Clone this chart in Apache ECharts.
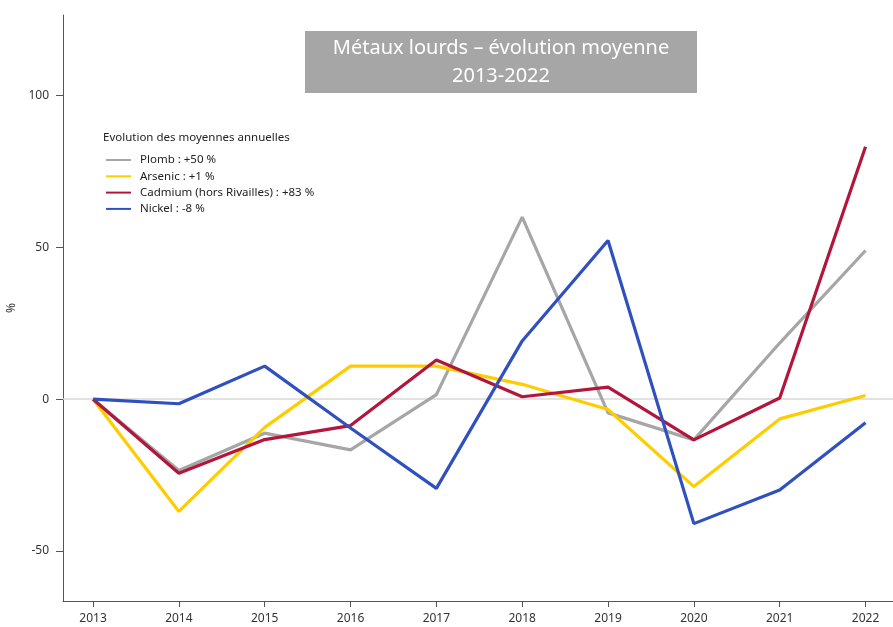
<!DOCTYPE html>
<html>
<head>
<meta charset="utf-8">
<script src="https://cdn.jsdelivr.net/npm/echarts@6/dist/echarts.min.js"></script>
<style>html,body{margin:0;padding:0;background:#fff}#c{width:893px;height:627px}</style>
</head>
<body>
<div id="c"></div>
<script>
var years = [2013, 2014, 2015, 2016, 2017, 2018, 2019, 2020, 2021, 2022];
var seriesNames = ['Plomb : +50 %', 'Arsenic : +1 %', 'Cadmium (hors Rivailles) : +83 %', 'Nickel : -8 %'];
var plomb   = [0, -23.5, -11.2, -16.7, 1.5, 60, -4.5, -13.4, 18.5, 49];
var arsenic = [0, -37, -9.3, 10.9, 10.9, 4.9, -3.4, -28.8, -6.5, 1.2];
var cadmium = [0, -24.4, -13.3, -8.7, 12.9, 0.8, 4, -13.4, 0.4, 83.2];
var nickel  = [0, -1.5, 10.9, -9.5, -29.4, 19.2, 52.3, -41, -29.9, -7.8];
var yTicks = [-50, 0, 50, 100];
var colors = ['#a6a6a6', '#ffcc00', '#b3163b', '#3050bf'];
var titleLines = ['Métaux lourds – évolution moyenne', '2013-2022'];
var legendTitle = 'Evolution des moyennes annuelles';

function pairs(vals){ return years.map(function(y,i){ return [y, vals[i]]; }); }
var allVals = [plomb, arsenic, cadmium, nickel];
var FONT = '"Noto Sans", "Open Sans", sans-serif';

var series = allVals.map(function(v, i){
  var s = {
    name: seriesNames[i], type: 'line', data: pairs(v), symbol: 'none',
    lineStyle: {width: 3.2, color: colors[i]}, itemStyle: {color: colors[i]},
    z: 3 + i
  };
  if (i === 0) {
    s.markLine = {silent: true, symbol: 'none', label: {show: false},
      lineStyle: {color: '#d9d9d9', width: 1.5, type: 'solid'}, z: 1,
      data: [{yAxis: 0}]};
  }
  return s;
});

var chart = echarts.init(document.getElementById('c'), null, {renderer: 'canvas'});
chart.setOption({
  animation: false,
  color: colors,
  grid: {left: 63, top: 15, right: 0, bottom: 26, containLabel: false, outerBoundsMode: 'none'},
  xAxis: {
    type: 'value', min: 2012.65, max: 2022.32,
    axisLine: {show: true, onZero: false, lineStyle: {color: '#555', width: 1}},
    axisTick: {show: true, length: 6, lineStyle: {color: '#555'}, customValues: years},
    axisLabel: {color: '#333', fontSize: 12, fontFamily: FONT, margin: 12, customValues: years,
      formatter: function(v){ return String(Math.round(v)); }},
    splitLine: {show: false}
  },
  yAxis: {
    type: 'value', min: -66.5, max: 126.6,
    name: '%', nameLocation: 'middle', nameGap: 43, nameRotate: 90,
    nameTextStyle: {color: '#333', fontSize: 12, fontFamily: FONT},
    axisLine: {show: true, lineStyle: {color: '#555', width: 1}},
    axisTick: {show: true, length: 7, lineStyle: {color: '#555'}, customValues: yTicks},
    axisLabel: {color: '#333', fontSize: 12, fontFamily: FONT, margin: 14, customValues: yTicks},
    splitLine: {show: false}
  },
  legend: {
    orient: 'vertical', left: 101, top: 149, itemWidth: 25, itemHeight: 12, itemGap: 4.3,
    icon: 'path://M0,0L25,0L25,2L0,2Z',
    textStyle: {color: '#222', fontSize: 11.5, fontFamily: FONT, padding: [0, 0, 0, 4]},
    data: seriesNames.map(function(n, i){ return {name: n, itemStyle: {color: colors[i]}}; })
  },
  graphic: [
    {type: 'rect', x: 305, y: 31, shape: {x: 0, y: 0, width: 392, height: 62}, style: {fill: '#a6a6a6'}, z: 10},
    {type: 'text', x: 501, y: 34, z: 11,
      style: {text: titleLines.join('\n'), fill: '#fff', font: '20px ' + FONT, align: 'center', verticalAlign: 'top', lineHeight: 28}},
    {type: 'text', x: 103, y: 132, z: 11,
      style: {text: legendTitle, fill: '#222', font: '11.5px ' + FONT}}
  ],
  series: series
});
</script>
</body>
</html>
